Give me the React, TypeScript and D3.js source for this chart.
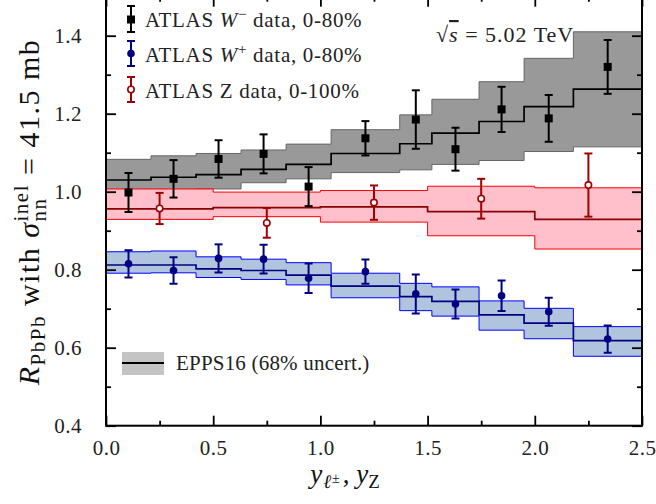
import React, { useEffect, useRef } from "react";
import * as d3 from "d3";

// ATLAS bins (lepton rapidity) and Z bins
const wEdges = [0, 0.21, 0.42, 0.63, 0.84, 1.05, 1.37, 1.52, 1.74, 1.95, 2.18, 2.5];
const wX = [0.105, 0.315, 0.525, 0.735, 0.945, 1.21, 1.445, 1.63, 1.845, 2.065, 2.34];
const zEdges = [0, 0.5, 1.0, 1.5, 2.0, 2.5];
const zX = [0.25, 0.75, 1.25, 1.75, 2.25];

// data points
const wMinusVal = [0.998, 1.033, 1.084, 1.097, 1.013, 1.137, 1.185, 1.109, 1.211, 1.188, 1.32];
const wMinusErr = [0.05, 0.048, 0.048, 0.05, 0.05, 0.044, 0.075, 0.055, 0.058, 0.06, 0.069];
const wPlusVal = [0.815, 0.798, 0.829, 0.827, 0.778, 0.795, 0.738, 0.712, 0.733, 0.692, 0.622];
const wPlusErr = [0.035, 0.034, 0.036, 0.037, 0.038, 0.031, 0.05, 0.037, 0.039, 0.036, 0.035];
const zVal = [0.957, 0.92, 0.972, 0.982, 1.017];
const zErr = [0.04, 0.038, 0.044, 0.051, 0.081];

// EPPS16 predictions (central, upper, lower per bin)
const eppsWmMid = [1.03, 1.037, 1.044, 1.057, 1.07, 1.098, 1.123, 1.15, 1.18, 1.218, 1.263];
const eppsWmHi = [1.083, 1.092, 1.098, 1.107, 1.122, 1.159, 1.197, 1.237, 1.282, 1.342, 1.41];
const eppsWmLo = [0.98, 0.99, 1.007, 1.023, 1.033, 1.049, 1.056, 1.07, 1.08, 1.103, 1.115];
const eppsZMid = [0.956, 0.959, 0.961, 0.949, 0.929];
const eppsZHi = [1.007, 0.999, 1.003, 1.014, 1.01];
const eppsZLo = [0.929, 0.936, 0.922, 0.887, 0.853];
const eppsWpMid = [0.812, 0.812, 0.802, 0.798, 0.786, 0.758, 0.731, 0.719, 0.684, 0.663, 0.618];
const eppsWpHi = [0.846, 0.848, 0.833, 0.827, 0.818, 0.791, 0.765, 0.756, 0.72, 0.701, 0.654];
const eppsWpLo = [0.791, 0.792, 0.78, 0.775, 0.761, 0.728, 0.695, 0.681, 0.645, 0.623, 0.578];

const xMajor = [0, 0.5, 1.0, 1.5, 2.0, 2.5];
const xMinor = [0.25, 0.75, 1.25, 1.75, 2.25];
const yMajor = [0.4, 0.6, 0.8, 1.0, 1.2, 1.4];
const yMinor = [0.5, 0.7, 0.9, 1.1, 1.3];

const FONT = "Liberation Serif, DejaVu Serif, serif";

const x = d3.scaleLinear().domain([0, 2.5]).range([106, 642]);
const y = d3.scaleLinear().domain([0.4, 1.5]).range([425.7, -3.3]);

type StepPt = { x: number; lo: number; mid: number; hi: number };

const stepPoints = (edges: number[], lo: number[], mid: number[], hi: number[]): StepPt[] =>
  edges.map((e, i) => {
    const k = Math.min(i, mid.length - 1);
    return { x: e, lo: lo[k], mid: mid[k], hi: hi[k] };
  });

const area = d3
  .area<StepPt>()
  .curve(d3.curveStepAfter)
  .x((d) => x(d.x))
  .y0((d) => y(d.lo))
  .y1((d) => y(d.hi));

const line = d3
  .line<StepPt>()
  .curve(d3.curveStepAfter)
  .x((d) => x(d.x))
  .y((d) => y(d.mid));

const Band = ({ pts, fill, edge, center }: { pts: StepPt[]; fill: string; edge: string; center: string }) => (
  <g>
    <path d={area(pts) || ""} fill={fill} stroke={edge} strokeWidth={1} />
    <path d={line(pts) || ""} fill="none" stroke={center} strokeWidth={1.7} />
  </g>
);

const ErrBar = ({ cx, lo, hi, color }: { cx: number; lo: number; hi: number; color: string }) => (
  <g stroke={color} strokeWidth={2}>
    <line x1={cx} x2={cx} y1={lo} y2={hi} />
    <line x1={cx - 4} x2={cx + 4} y1={lo} y2={lo} />
    <line x1={cx - 4} x2={cx + 4} y1={hi} y2={hi} />
  </g>
);

const App = () => {
  const axRef = useRef<SVGGElement>(null);

  useEffect(() => {
    const g = d3.select(axRef.current);
    g.selectAll("*").remove();
    const fmt = d3.format(".1f");
    const add = (axis: any, transform: string, labels: boolean) => {
      const s = g.append("g").attr("transform", transform).call(axis);
      s.select(".domain").remove();
      s.selectAll("line").attr("stroke-width", 1.8);
      s.attr("font-family", FONT).attr("font-size", 21);
      s.selectAll("text").attr("fill", "#222").attr("letter-spacing", 0.5);
      if (!labels) s.selectAll("text").remove();
      return s;
    };
    // bottom
    add(d3.axisBottom(x).tickValues(xMajor).tickSize(-10).tickPadding(14).tickFormat(fmt), `translate(0,${y(0.4)})`, true);
    add(d3.axisBottom(x).tickValues(xMinor).tickSize(-5), `translate(0,${y(0.4)})`, false);
    // top
    add(d3.axisTop(x).tickValues(xMajor).tickSize(-10), `translate(0,${y(1.5)})`, false);
    add(d3.axisTop(x).tickValues(xMinor).tickSize(-5), `translate(0,${y(1.5)})`, false);
    // left
    add(d3.axisLeft(y).tickValues(yMajor).tickSize(-10).tickPadding(24).tickFormat(fmt), `translate(${x(0)},0)`, true);
    add(d3.axisLeft(y).tickValues(yMinor).tickSize(-5), `translate(${x(0)},0)`, false);
    // right
    add(d3.axisRight(y).tickValues(yMajor).tickSize(-10), `translate(${x(2.5)},0)`, false);
    add(d3.axisRight(y).tickValues(yMinor).tickSize(-5), `translate(${x(2.5)},0)`, false);
  }, []);

  const wm = stepPoints(wEdges, eppsWmLo, eppsWmMid, eppsWmHi);
  const zz = stepPoints(zEdges, eppsZLo, eppsZMid, eppsZHi);
  const wp = stepPoints(wEdges, eppsWpLo, eppsWpMid, eppsWpHi);

  return (
    <div style={{ position: "absolute", left: 0, top: 0 }}>
      <svg width={656} height={504} style={{ display: "block", background: "#fff", fontFamily: FONT }}>
        <defs>
          <clipPath id="plot">
            <rect x={x(0)} y={y(1.5)} width={x(2.5) - x(0)} height={y(0.4) - y(1.5)} />
          </clipPath>
        </defs>
        <g clipPath="url(#plot)">
          <Band pts={wm} fill="#999999" edge="#666666" center="#000000" />
          <Band pts={zz} fill="#ffc0cb" edge="#ff0000" center="#8b0000" />
          <Band pts={wp} fill="#b0c4de" edge="#0000ff" center="#000080" />

          {wX.map((v, i) => (
            <g key={"wm" + i}>
              <ErrBar cx={x(v)} lo={y(wMinusVal[i] - wMinusErr[i])} hi={y(wMinusVal[i] + wMinusErr[i])} color="#000" />
              <rect x={x(v) - 4} y={y(wMinusVal[i]) - 4} width={8} height={8} fill="#000" />
            </g>
          ))}
          {wX.map((v, i) => (
            <g key={"wp" + i}>
              <ErrBar cx={x(v)} lo={y(wPlusVal[i] - wPlusErr[i])} hi={y(wPlusVal[i] + wPlusErr[i])} color="#000080" />
              <circle cx={x(v)} cy={y(wPlusVal[i])} r={3.8} fill="#000080" />
            </g>
          ))}
          {zX.map((v, i) => (
            <g key={"z" + i}>
              <ErrBar cx={x(v)} lo={y(zVal[i] - zErr[i])} hi={y(zVal[i] + zErr[i])} color="#a00000" />
              <circle cx={x(v)} cy={y(zVal[i])} r={3.2} fill="#fff" stroke="#a00000" strokeWidth={1.6} />
            </g>
          ))}
        </g>

        <rect x={x(0)} y={y(1.5)} width={x(2.5) - x(0)} height={y(0.4) - y(1.5)} fill="none" stroke="#000" strokeWidth={2} />
        <g ref={axRef} />

        {/* legend */}
        <g fontSize={21} fill="#222" fontFamily={FONT} letterSpacing={0.7}>
          <ErrBar cx={131} lo={32} hi={6} color="#000" />
          <rect x={127} y={15.5} width={8} height={8} fill="#000" />
          <text x={145} y={27}>
            {"ATLAS "}
            <tspan fontStyle="italic">W</tspan>
            <tspan fontSize={15} dy={-8}>−</tspan>
            <tspan dy={8}>{" data, 0-80%"}</tspan>
          </text>

          <ErrBar cx={131} lo={66} hi={41} color="#000080" />
          <circle cx={131} cy={53.5} r={3.8} fill="#000080" />
          <text x={145} y={62}>
            {"ATLAS "}
            <tspan fontStyle="italic">W</tspan>
            <tspan fontSize={15} dy={-8}>+</tspan>
            <tspan dy={8}>{" data, 0-80%"}</tspan>
          </text>

          <ErrBar cx={131} lo={102} hi={77} color="#a00000" />
          <circle cx={131} cy={89.5} r={3.2} fill="#fff" stroke="#a00000" strokeWidth={1.6} />
          <text x={145} y={98}>ATLAS Z data, 0-100%</text>
        </g>

        <text x={436} y={42} fontSize={22} fill="#222" fontFamily={FONT} letterSpacing={1}>
          <tspan>√</tspan>
          <tspan fontStyle="italic" textDecoration="overline">s</tspan>
          <tspan>{" = 5.02 TeV"}</tspan>
        </text>

        <g fontFamily={FONT}>
          <rect x={122} y={352} width={42} height={23} fill="#c4c4c4" />
          <line x1={122} x2={164} y1={363} y2={363} stroke="#000" strokeWidth={2} />
          <text x={176} y={370} fontSize={21} fill="#222" letterSpacing={0.2}>EPPS16 (68% uncert.)</text>
        </g>

        {/* axis titles */}
        <text transform="translate(39,212) rotate(-90)" textAnchor="middle" fontSize={30} fill="#111" fontFamily={FONT} letterSpacing={1.5}>
          <tspan fontStyle="italic">R</tspan>
          <tspan fontSize={21} dy={6}>PbPb</tspan>
          <tspan dy={-6}>{" with "}</tspan>
          <tspan fontStyle="italic">σ</tspan>
          <tspan fontSize={21} dy={7}>nn</tspan>
          <tspan fontSize={21} dx={-24} dy={-18}>inel</tspan>
          <tspan dy={11}>{" = 41.5 mb"}</tspan>
        </text>

        <text x={345} y={483} textAnchor="middle" fontSize={27} fill="#111" fontFamily={FONT}>
          <tspan fontStyle="italic">y</tspan>
          <tspan fontSize={19} dy={5} dx={1} fontStyle="italic">ℓ</tspan>
          <tspan fontSize={14} dy={-5} dx={1}>±</tspan>
          <tspan dx={3}>{", "}</tspan>
          <tspan fontStyle="italic">y</tspan>
          <tspan fontSize={19} dy={5}>Z</tspan>
        </text>
      </svg>
    </div>
  );
};

export default App;
